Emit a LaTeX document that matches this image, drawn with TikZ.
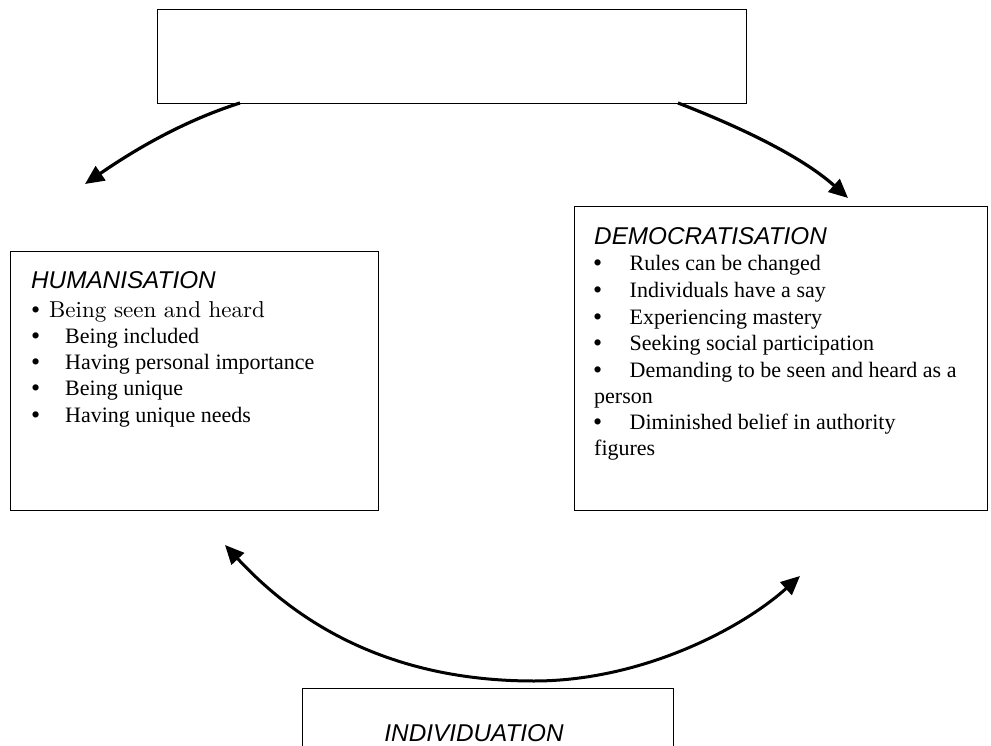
\documentclass[tikz,border=0pt]{standalone}
\usepackage{fontspec}
\usetikzlibrary{arrows.meta}
\newfontfamily\bodyfont{Liberation Serif}
\newfontfamily\headfont{Liberation Sans}
\newfontfamily\lmfont{lmroman10-regular.otf}
\tikzset{
  frame/.style={draw=black, line width=1.3pt, inner sep=0pt, anchor=north west},
  flow/.style={line width=3.2pt, -{Triangle[length=19pt,width=17pt]}},
  cycle/.style={line width=3pt, {Triangle[length=19pt,width=17pt]}-{Triangle[length=19pt,width=17pt]}},
  head/.style={anchor=base west, inner sep=0pt, font=\headfont\itshape\fontsize{24.3}{26}\selectfont},
  item/.style={anchor=base west, inner sep=0pt, font=\bodyfont\fontsize{22}{26}\selectfont},
  dot/.style={anchor=base west, inner sep=0pt, font=\bodyfont\fontsize{26}{26}\selectfont, yshift=-1pt},
}
\begin{document}
\begin{tikzpicture}[x=1pt,y=-1pt]
\useasboundingbox (0,0) rectangle (991,746);
\clip (0,0) rectangle (991,746);

% boxes
\node[frame, minimum width=589pt, minimum height=94pt]  (apex)  at (157,9)   {};
\node[frame, minimum width=368pt, minimum height=259pt] (human) at (9.5,251) {};
\node[frame, minimum width=413pt, minimum height=304pt] (demo)  at (574,206) {};
\node[frame, minimum width=371pt, minimum height=100pt] (indiv) at (302,688) {};

% humanisation list
\node[head] (hT) at (31,288) {HUMANISATION};
\node[dot]  (hb1) at (31,317)   {•};
\node[item, font=\lmfont\fontsize{23}{26}\selectfont] (h1) at (49,317) {Being seen and heard};
\node[dot]  (hb2) at (31,343)   {•};
\node[item] (h2)  at (65,343)   {Being included};
\node[dot]  (hb3) at (31,369.5) {•};
\node[item] (h3)  at (65,369.5) {Having personal importance};
\node[dot]  (hb4) at (31,395.5) {•};
\node[item] (h4)  at (65,395.5) {Being unique};
\node[dot]  (hb5) at (31,422)   {•};
\node[item] (h5)  at (65,422)   {Having unique needs};

% democratisation list
\node[head] (dT) at (594,244.5) {DEMOCRATISATION};
\node[dot]  (db1) at (593,271)   {•};
\node[item] (d1)  at (629.5,271)   {Rules can be changed};
\node[dot]  (db2) at (593,297.5) {•};
\node[item] (d2)  at (629.5,297.5) {Individuals have a say};
\node[dot]  (db3) at (593,324)   {•};
\node[item] (d3)  at (629.5,324)   {Experiencing mastery};
\node[dot]  (db4) at (593,350.5) {•};
\node[item] (d4)  at (629.5,350.5) {Seeking social participation};
\node[dot]  (db5) at (593,377)   {•};
\node[item] (d5)  at (629.5,377)   {Demanding to be seen and heard as a};
\node[item] (d5b) at (594,403)   {person};
\node[dot]  (db6) at (593,429)   {•};
\node[item] (d6)  at (629.5,429)   {Diminished belief in authority};
\node[item] (d6b) at (594,455)   {figures};

% individuation title
\node[head, anchor=base] (iT) at (474,741.5) {INDIVIDUATION};

% connector ends
\coordinate (tlS) at (240,103);
\coordinate (tlE) at (85,184);
\coordinate (trS) at (678,103);
\coordinate (trE) at (848,198);
\coordinate (blE) at (225,545);
\coordinate (bMid) at (534,681);
\coordinate (brE) at (800,576);

% arrows
\draw[flow] (tlS) .. controls (180,122) and (130,153) .. (tlE);
\draw[flow] (trS) .. controls (735,125) and (800,155) .. (trE);
\draw[cycle] (blE) .. controls (290,615) and (380,681) .. (bMid)
                   .. controls (640,681) and (740,630) .. (brE);
\end{tikzpicture}
\end{document}
